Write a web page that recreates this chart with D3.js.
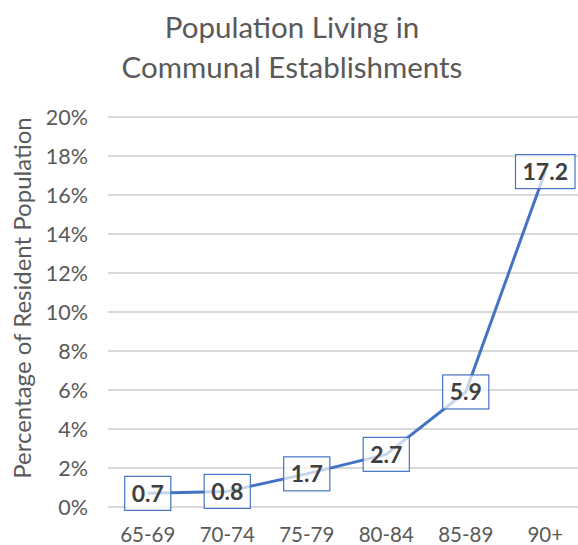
<!DOCTYPE html>
<html>
<head>
<meta charset="utf-8">
<script src="https://cdn.jsdelivr.net/npm/d3@7"></script>
<style>
  body { margin: 0; background: #fff; }
  text { font-family: Lato, "Open Sans", sans-serif; }
</style>
</head>
<body>
<svg id="chart" width="578" height="545"></svg>
<script>
// age bands and % living in communal establishments
const ageGroups = ["65-69", "70-74", "75-79", "80-84", "85-89", "90+"];
const pctValues = [0.7, 0.8, 1.7, 2.7, 5.9, 17.2];
const yTicks = [0, 2, 4, 6, 8, 10, 12, 14, 16, 18, 20];
const titleLines = ["Population Living in", "Communal Establishments"];

const svg = d3.select("#chart");
const margin = {left: 108, right: -7, top: 117, bottom: 38};
const W = 578, H = 545;

const x = d3.scaleBand()
    .domain(ageGroups)
    .range([margin.left, W - margin.right]);

const y = d3.scaleLinear()
    .domain([0, 20])
    .range([H - margin.bottom, margin.top]);

// gridlines
svg.append("g")
    .selectAll("line")
    .data(yTicks)
    .join("line")
    .attr("x1", margin.left)
    .attr("x2", W)
    .attr("y1", d => y(d))
    .attr("y2", d => y(d))
    .attr("stroke", "#d9d9d9")
    .attr("stroke-width", 2);

// y tick labels
svg.append("g")
    .selectAll("text")
    .data(yTicks)
    .join("text")
    .attr("x", 88)
    .attr("y", d => y(d))
    .attr("dy", "0.35em")
    .attr("text-anchor", "end")
    .attr("fill", "#595959")
    .style("font-size", "21.5px")
    .text(d => d + "%");

// x tick labels
svg.append("g")
    .selectAll("text")
    .data(ageGroups)
    .join("text")
    .attr("x", d => x(d) + x.bandwidth() / 2)
    .attr("y", 542)
    .attr("text-anchor", "middle")
    .attr("fill", "#595959")
    .style("font-size", "20.5px")
    .text(d => d);

// y axis title
svg.append("text")
    .attr("transform", "translate(31,298) rotate(-90)")
    .attr("text-anchor", "middle")
    .attr("fill", "#595959")
    .style("font-size", "24px")
    .text("Percentage of Resident Population");

// title
svg.append("g")
    .selectAll("text")
    .data(titleLines)
    .join("text")
    .attr("x", 292)
    .attr("y", (d, i) => 38 + i * 40)
    .attr("text-anchor", "middle")
    .attr("fill", "#595959")
    .style("font-size", "29.5px")
    .text(d => d);

// line
const pts = ageGroups.map((g, i) => ({g: g, v: pctValues[i]}));
const line = d3.line()
    .x(d => x(d.g) + x.bandwidth() / 2)
    .y(d => y(d.v));

svg.append("path")
    .datum(pts)
    .attr("d", line)
    .attr("fill", "none")
    .attr("stroke", "#4472c4")
    .attr("stroke-width", 3)
    .attr("stroke-linejoin", "round");

// data labels in boxes
const lab = svg.append("g")
    .selectAll("g")
    .data(pts)
    .join("g")
    .attr("transform", d => `translate(${x(d.g) + x.bandwidth() / 2},${y(d.v)})`);

lab.append("text")
    .attr("text-anchor", "middle")
    .attr("dy", "0.36em")
    .attr("fill", "#404040")
    .style("font-size", "23px")
    .style("font-weight", "bold")
    .text(d => d.v.toFixed(1));

lab.each(function() {
    const g = d3.select(this);
    const bb = g.select("text").node().getBBox();
    g.insert("rect", "text")
        .attr("x", bb.x - 7)
        .attr("y", -17)
        .attr("width", bb.width + 14)
        .attr("height", 34)
        .attr("fill", "#fff")
        .attr("fill-opacity", 0.7)
        .attr("stroke", "#4472c4")
        .attr("stroke-width", 1.2);
});
</script>
</body>
</html>
